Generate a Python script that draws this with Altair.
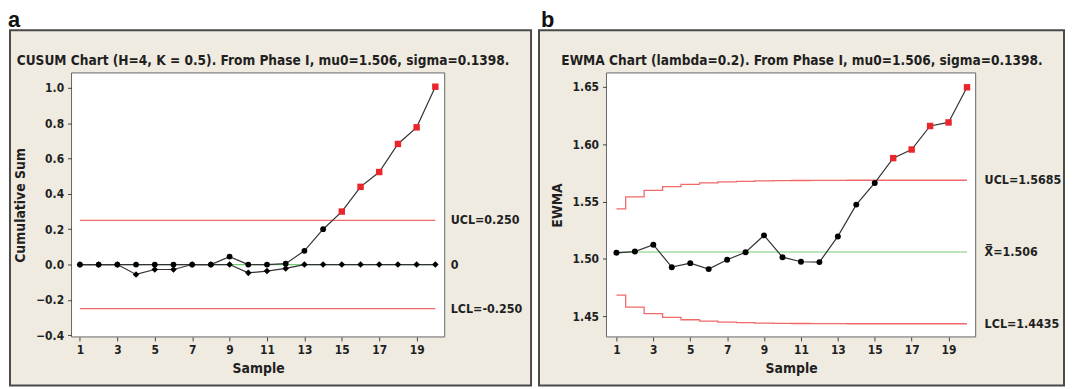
import altair as alt
import pandas as pd

# ---------------- data ----------------
samples = list(range(1, 21))

cusum_upper = [0, 0, 0, 0, 0, 0, 0, 0, 0.045, 0, 0, 0.005, 0.078, 0.20,
               0.30, 0.44, 0.524, 0.683, 0.777, 1.007]
cusum_lower = [0, 0, 0, -0.056, -0.028, -0.028, 0, 0, 0, -0.047, -0.037,
               -0.022, 0, 0, 0, 0, 0, 0, 0, 0]
cusum_ucl = 0.250
cusum_lcl = -0.250
cusum_center = 0.0

ewma_values = [1.5053, 1.5064, 1.5124, 1.4928, 1.4963, 1.4911, 1.4992, 1.5058,
               1.5205, 1.5015, 1.4975, 1.4972, 1.5196, 1.5473, 1.5662, 1.5878,
               1.5953, 1.6158, 1.6189, 1.6495]
ewma_ucl = [1.5435, 1.5540, 1.5597, 1.5630, 1.5650, 1.5663, 1.5671, 1.5676,
            1.5679, 1.5681, 1.5683, 1.5684, 1.5684, 1.5685, 1.5685, 1.5685,
            1.5685, 1.5685, 1.5685, 1.5685]
ewma_lcl = [1.4685, 1.4580, 1.4523, 1.4490, 1.4470, 1.4457, 1.4449, 1.4444,
            1.4441, 1.4439, 1.4437, 1.4436, 1.4436, 1.4435, 1.4435, 1.4435,
            1.4435, 1.4435, 1.4435, 1.4435]
ewma_center = 1.506

x_ticks = [1, 3, 5, 7, 9, 11, 13, 15, 17, 19]
cusum_y_ticks = [-0.4, -0.2, 0.0, 0.2, 0.4, 0.6, 0.8, 1.0]
ewma_y_ticks = [1.45, 1.50, 1.55, 1.60, 1.65]

cusum_title = "CUSUM Chart (H=4, K = 0.5). From Phase I, mu0=1.506, sigma=0.1398."
ewma_title = "EWMA Chart (lambda=0.2). From Phase I, mu0=1.506, sigma=0.1398."
cusum_labels = ["UCL=0.250", "0", "LCL=-0.250"]
ewma_labels = ["UCL=1.5685", "X\u033f=1.506", "LCL=1.4435"]

# ---------------- styling ----------------
FONT = "DejaVu Sans Condensed"
TXT = "#1f1f1f"
BEIGE = "#EFEBE1"
FRAME = "#4a4a4a"
LINE = "#333333"
RED_LINE = "#F06A6A"
GREEN_LINE = "#74CC74"
RED_PT = "#E8262B"
H = 266

one = pd.DataFrame({"k": [0]})


def panel(df, yfield_specs, xdom, ydom, yticks, yfmt, ytitle, W,
          limits_df, label_df, label_dx, title, title_x, letter, letter_x,
          box_left, box_right, step_limits):
    xs = alt.Scale(domain=xdom, nice=False)
    ys = alt.Scale(domain=ydom, nice=False)
    xax = alt.Axis(values=x_ticks, format="d", title="Sample", domain=False,
                   grid=False, tickSize=4, tickColor="#444", labelPadding=4,
                   titlePadding=6, zindex=1, labelFont=FONT, titleFont=FONT,
                   labelFontWeight="bold", titleFontWeight="bold",
                   labelFontSize=12, titleFontSize=14, labelColor=TXT,
                   titleColor=TXT)
    yax = alt.Axis(values=yticks, format=yfmt, title=ytitle, domain=False,
                   grid=False, tickSize=4, tickColor="#444", labelPadding=4,
                   titlePadding=8, zindex=1, labelFont=FONT, titleFont=FONT,
                   labelFontWeight="bold", titleFontWeight="bold",
                   labelFontSize=12, titleFontSize=14, labelColor=TXT,
                   titleColor=TXT)

    def X(field):
        return alt.X(f"{field}:Q", scale=xs, axis=xax)

    def Y(field):
        return alt.Y(f"{field}:Q", scale=ys, axis=yax)

    base = alt.Chart(df)
    bg = alt.Chart(one).mark_rect(fill=BEIGE, stroke=FRAME, strokeWidth=2,
                                  clip=False).encode(
        x=alt.value(box_left), x2=alt.value(box_right),
        y=alt.value(-43), y2=alt.value(H + 49))
    plotbg = alt.Chart(one).mark_rect(fill="white", stroke="#666666",
                                      strokeWidth=1).encode(
        x=alt.value(0), x2=alt.value(W), y=alt.value(0), y2=alt.value(H))

    layers = [bg, plotbg]
    lim = alt.Chart(limits_df)
    if step_limits:
        layers.append(base.mark_line(color=RED_LINE, strokeWidth=1.3,
                                     interpolate="step").encode(x=X("sample"), y=Y("ucl")))
        layers.append(base.mark_line(color=RED_LINE, strokeWidth=1.3,
                                     interpolate="step").encode(x=X("sample"), y=Y("lcl")))
        layers.append(lim.transform_filter("datum.kind == 'center'").mark_rule(
            color=GREEN_LINE, strokeWidth=1.2).encode(x=X("x0"), x2="x1", y=Y("y")))
    else:
        layers.append(lim.transform_filter("datum.kind != 'center'").mark_rule(
            color=RED_LINE, strokeWidth=1.3).encode(x=X("x0"), x2="x1", y=Y("y")))
        layers.append(lim.transform_filter("datum.kind == 'center'").mark_rule(
            color=GREEN_LINE, strokeWidth=1.2).encode(x=X("x0"), x2="x1", y=Y("y")))

    for spec in yfield_specs:
        f, shape, size, ucl_expr = spec
        layers.append(base.mark_line(color=LINE, strokeWidth=1.2).encode(
            x=X("sample"), y=Y(f)))
    for spec in yfield_specs:
        f, shape, size, ucl_expr = spec
        layers.append(base.transform_filter(f"!({ucl_expr})").mark_point(
            filled=True, shape=shape, size=size, color="black", opacity=1).encode(
            x=X("sample"), y=Y(f)))
        layers.append(base.transform_filter(ucl_expr).mark_point(
            filled=True, shape="square", size=42, color=RED_PT, opacity=1).encode(
            x=X("sample"), y=Y(f)))

    layers.append(alt.Chart(label_df).mark_text(
        align="left", baseline="middle", font=FONT, fontSize=12.5,
        fontWeight="bold", color=TXT, clip=False).encode(
        x=alt.value(W + label_dx), y=Y("y"), text="label:N"))
    layers.append(alt.Chart(one).mark_text(
        text=title, align="center", baseline="alphabetic", font=FONT,
        fontSize=13.7, fontWeight="bold", color=TXT).encode(
        x=alt.value(title_x), y=alt.value(-8)))
    layers.append(alt.Chart(one).mark_text(
        text=letter, align="left", baseline="alphabetic", font="Liberation Sans",
        fontSize=22, fontWeight="bold", color="#111").encode(
        x=alt.value(letter_x), y=alt.value(-46)))
    return alt.layer(*layers).properties(width=W, height=H)


cusum_df = pd.DataFrame({"sample": samples, "upper": cusum_upper,
                         "lower": cusum_lower})
cusum_lim = pd.DataFrame({"kind": ["ucl", "center", "lcl"],
                          "y": [cusum_ucl, cusum_center, cusum_lcl],
                          "x0": [samples[0]] * 3, "x1": [samples[-1]] * 3})
cusum_lab = pd.DataFrame({"label": cusum_labels,
                          "y": [cusum_ucl, cusum_center, cusum_lcl]})

ewma_df = pd.DataFrame({"sample": samples, "ewma": ewma_values,
                        "ucl": ewma_ucl, "lcl": ewma_lcl})
ewma_lim = pd.DataFrame({"kind": ["center"], "y": [ewma_center],
                         "x0": [samples[0]], "x1": [samples[-1]]})
ewma_lab = pd.DataFrame({"label": ewma_labels,
                         "y": [ewma_ucl[-1], ewma_center, ewma_lcl[-1]]})

left = panel(cusum_df,
             [("upper", "circle", 34, f"datum.upper > {cusum_ucl}"),
              ("lower", "diamond", 44, f"datum.lower < {cusum_lcl}")],
             [0.55, 20.5], [-0.41, 1.085], cusum_y_ticks, ".1f",
             "Cumulative Sum", 376, cusum_lim, cusum_lab, 6,
             cusum_title, 193, "a", -64, -62, 463, False)

right = panel(ewma_df,
              [("ewma", "circle", 36, "datum.ewma > datum.ucl || datum.ewma < datum.lcl")],
              [0.46, 20.47], [1.432, 1.662], ewma_y_ticks, ".2f",
              "EWMA", 372, ewma_lim, ewma_lab, 9,
              ewma_title, 197, "b", -66, -68, 461, True)

chart = alt.hconcat(left, right, spacing=163, bounds="flush").properties(
    padding=0, background="white"
).configure_view(strokeWidth=0)

chart.save("out.html", embed_options={"renderer": "svg", "actions": False})
